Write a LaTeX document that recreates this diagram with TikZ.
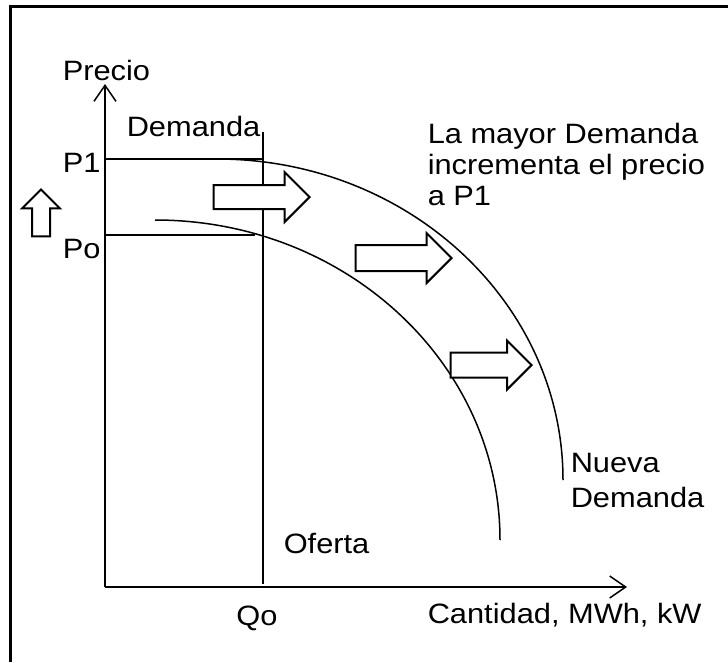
\documentclass[tikz,border=0pt]{standalone}
\usepackage{fontspec}
\setmainfont[FakeStretch=1.1]{Liberation Sans}
\usetikzlibrary{shapes.arrows}
\usetikzlibrary{arrows.meta}

\begin{document}
\begin{tikzpicture}[x=1pt,y=-1pt,line width=1.5pt,
    >={Straight Barb[length=16pt,width=22pt]},
    lbl/.style={inner sep=0pt,font=\fontsize{28}{31}\selectfont},
    pusharrow/.style={draw,fill=white,line width=2pt,single arrow,anchor=tip,inner xsep=0pt,
        inner ysep=11pt,single arrow head extend=13pt,minimum height=96pt}]
    \useasboundingbox (0,0) rectangle (728,662);
    % frame of the page
    \path (10,662) coordinate (fl) (10,6) coordinate (fc) (728,6) coordinate (fr);
    \draw [line width=3pt] (fl) -- (fc) -- (fr);
    % axes
    \path (105,587) coordinate (O) (105,84) coordinate (ytip) (627,587) coordinate (xtip);
    \draw [->] (O) -- (ytip);
    \draw [->] (O) -- (xtip);
    \path (62,80) node [lbl,anchor=base west] (pr) {Precio};
    \path (427,623) node [lbl,anchor=base west] (ca) {Cantidad, MWh, kW};
    % quantity Qo
    \path (263,584) coordinate (qb) (263,132) coordinate (qt);
    \draw (qb) -- (qt);
    \path (257,625) node [lbl,anchor=base] (qo) {Qo};
    \path (283,553) node [lbl,anchor=base west] (of) {Oferta};
    \path (126,136) node [lbl,anchor=base west] (de) {Demanda};
    % prices
    \path (105,159) coordinate (p1a) (263,159) coordinate (p1b);
    \draw (p1a) -- (p1b);
    \path (62,172) node [lbl,anchor=base west] (p1) {P1};
    \path (105,235) coordinate (poa) (255,235) coordinate (pob);
    \draw (poa) -- (pob);
    \path (62,258) node [lbl,anchor=base west] (po) {Po};
    % demand curves
    \draw (155,220) arc [start angle=-90,end angle=0,x radius=345,y radius=320];
    \draw (217,159) arc [start angle=-90,end angle=0,x radius=346,y radius=321];
    \path (570,452) node [lbl,anchor=north west,align=left,
        font=\fontsize{28}{35}\selectfont] (nd) {Nueva\\Demanda};
    \path (427,122.5) node [lbl,anchor=north west,align=left] (tx) {La mayor Demanda\\incrementa el precio\\a P1};
    % shift arrows
    \path (311,197) node [pusharrow] (a1) {};
    \path (453,258) node [pusharrow,inner ysep=12pt,single arrow head extend=12pt] (a2) {};
    \path (533,365) node [pusharrow,minimum height=81pt,inner ysep=11.5pt,single arrow head extend=12pt] (a3) {};
    \path (41,188) node [pusharrow,rotate=90,inner ysep=8pt,
        single arrow head extend=10pt,minimum height=47pt] (up) {};
\end{tikzpicture}
\end{document}
